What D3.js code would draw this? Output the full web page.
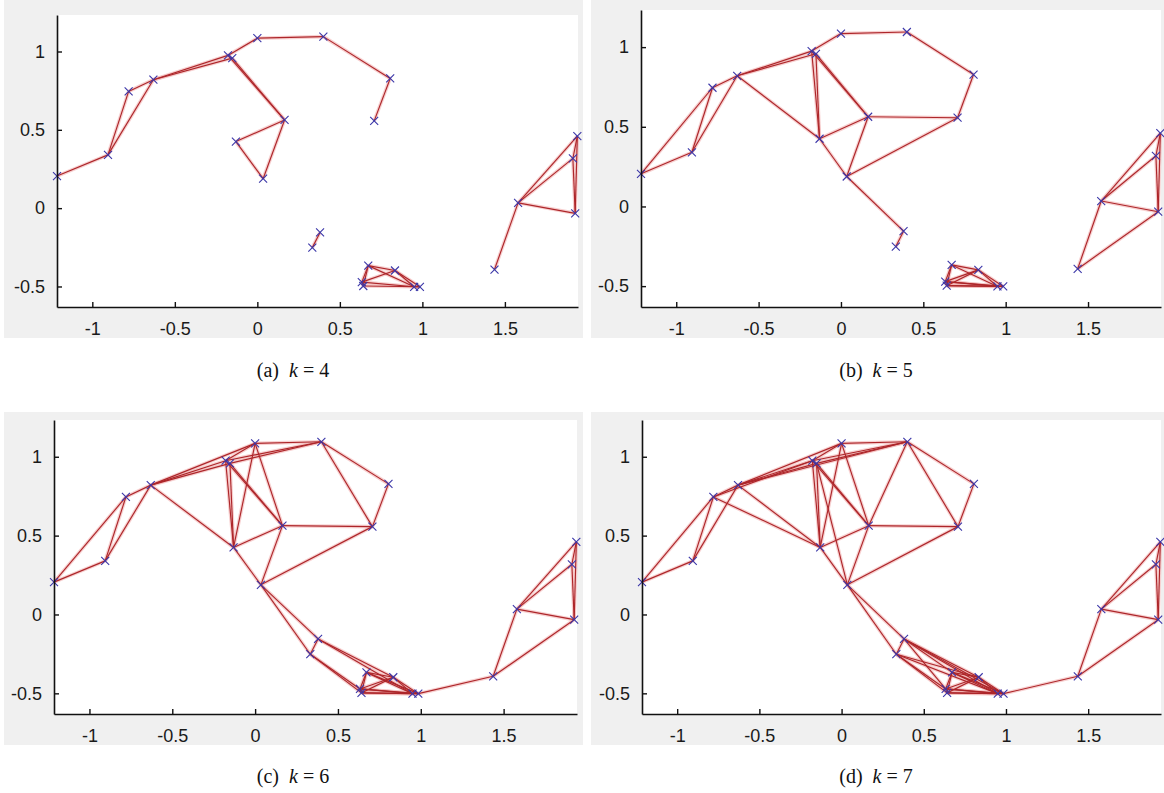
<html>
<head>
<meta charset="utf-8">
<script src="https://d3js.org/d3.v7.min.js"></script>
<style>
body { margin: 0; background: #fff; }
</style>
</head>
<body>
<svg class="chart" width="1164" height="793"></svg>
<script>

// node positions (two-moons sample)
const pointX = [-1.214, -0.905, -0.780, -0.630, -0.178, -0.152, 0.000, 0.165, -0.130, 0.035,
                0.400, 0.805, 0.708, 0.380, 0.333, 0.672, 0.834, 0.633, 0.642, 0.950,
                0.985, 1.437, 1.580, 1.939, 1.912, 1.926];
const pointY = [0.205, 0.340, 0.745, 0.820, 0.975, 0.958, 1.085, 0.563, 0.425, 0.188,
                1.095, 0.828, 0.557, -0.155, -0.252, -0.367, -0.398, -0.472, -0.497, -0.502,
                -0.502, -0.392, 0.034, 0.460, 0.318, -0.033];

// graph edges (node index pairs) for each k
const edgesK4 = [[0,1],[1,2],[1,3],[2,3],[3,4],[3,5],[4,6],[4,7],[5,7],[7,8],[7,9],[8,9],
  [6,10],[10,11],[11,12],[13,14],
  [15,16],[15,17],[15,18],[17,18],[16,17],[16,19],[16,20],[17,19],[18,20],[19,20],[15,19],
  [21,22],[22,23],[22,24],[22,25],[23,24],[23,25],[24,25]];
const edgesK5 = edgesK4.concat([[0,2],[3,8],[4,8],[5,8],[7,12],[9,12],[9,13],[21,25],
  [17,20],[18,19],[16,18]]);
const edgesK6 = edgesK5.concat([[4,10],[5,10],[3,6],[6,8],[6,7],[9,14],[13,16],[13,19],
  [14,17],[14,18],[20,21],[10,12],[15,20]]);
const edgesK7 = edgesK6.concat([[2,8],[2,4],[10,7],[13,15],[13,17],[14,16],[14,19],
  [13,20],[5,9],[3,10]]);

const kValues = [4, 5, 6, 7];
const panelLetters = ["(a)", "(b)", "(c)", "(d)"];
const panelEdges = [edgesK4, edgesK5, edgesK6, edgesK7];

const xDomain = [-1.214, 1.943];
const yDomain = [-0.631, 1.233];
const xTicks = [-1, -0.5, 0, 0.5, 1, 1.5];
const yTicks = [-0.5, 0, 0.5, 1];

// layout of the four screenshots
const layout = [
  {bg: [4, 0, 583, 338],    plot: [57, 15, 578, 307],    cap: [293, 377]},
  {bg: [591, 0, 1164, 338], plot: [641, 10, 1161, 307],  cap: [876, 377]},
  {bg: [4, 412, 583, 745],  plot: [54, 420, 577, 714],   cap: [293, 783]},
  {bg: [591, 412, 1164, 745], plot: [642, 420, 1161, 714], cap: [876, 783]}
];

const svg = d3.select(".chart");
const nodes = pointX.map((x, i) => ({x: x, y: pointY[i]}));
const plain = d => String(d);  // keep the ascii hyphen like matlab does

layout.forEach((L, p) => {
  const g = svg.append("g");

  g.append("rect")
      .attr("x", L.bg[0]).attr("y", L.bg[1])
      .attr("width", L.bg[2] - L.bg[0]).attr("height", L.bg[3] - L.bg[1])
      .attr("fill", "#f0f0f0");

  g.append("rect")
      .attr("x", L.plot[0]).attr("y", L.plot[1])
      .attr("width", L.plot[2] - L.plot[0]).attr("height", L.plot[3] - L.plot[1])
      .attr("fill", "#fff");

  const x = d3.scaleLinear().domain(xDomain).range([L.plot[0], L.plot[2]]);
  const y = d3.scaleLinear().domain(yDomain).range([L.plot[3], L.plot[1]]);

  const edges = panelEdges[p];

  // soft halo, the screenshots are blurry
  g.append("g").selectAll("line")
    .data(edges)
    .join("line")
      .attr("x1", d => x(nodes[d[0]].x)).attr("y1", d => y(nodes[d[0]].y))
      .attr("x2", d => x(nodes[d[1]].x)).attr("y2", d => y(nodes[d[1]].y))
      .attr("stroke", "#f2b0b0")
      .attr("stroke-opacity", 0.6)
      .attr("stroke-width", 3.6);

  g.append("g").selectAll("line")
    .data(edges)
    .join("line")
      .attr("x1", d => x(nodes[d[0]].x)).attr("y1", d => y(nodes[d[0]].y))
      .attr("x2", d => x(nodes[d[1]].x)).attr("y2", d => y(nodes[d[1]].y))
      .attr("stroke", "#ad262a")
      .attr("stroke-width", 1.15);

  g.append("g").selectAll("path")
    .data(nodes)
    .join("path")
      .attr("transform", d => `translate(${x(d.x)},${y(d.y)})`)
      .attr("d", "M-4,-4L4,4M-4,4L4,-4")
      .attr("stroke", "#3a36a8")
      .attr("stroke-width", 1.1)
      .attr("fill", "none");

  const xAxis = g.append("g")
      .attr("transform", `translate(0,${L.plot[3]})`)
      .call(d3.axisBottom(x).tickValues(xTicks).tickFormat(plain).tickSize(-5).tickSizeOuter(0).tickPadding(15));
  const yAxis = g.append("g")
      .attr("transform", `translate(${L.plot[0]},0)`)
      .call(d3.axisLeft(y).tickValues(yTicks).tickFormat(plain).tickSize(-5).tickSizeOuter(0).tickPadding(12));

  [xAxis, yAxis].forEach(a => {
    a.attr("font-size", 18).attr("font-family", "'Liberation Sans', Arial, sans-serif");
    a.select(".domain").attr("stroke", "#111").attr("stroke-width", 1.6);
    a.selectAll(".tick line").attr("stroke", "#111").attr("stroke-width", 1.4);
    a.selectAll(".tick text").attr("fill", "#1a1a1a");
  });

  const cap = svg.append("text")
      .attr("x", L.cap[0]).attr("y", L.cap[1])
      .attr("text-anchor", "middle")
      .attr("font-family", "'Liberation Serif', 'DejaVu Serif', serif")
      .attr("font-size", 20)
      .attr("fill", "#111");
  cap.append("tspan").text(panelLetters[p] + "\u2002");
  cap.append("tspan").attr("font-style", "italic").text("k");
  cap.append("tspan").text(" = " + kValues[p]);
});

</script>
</body>
</html>
